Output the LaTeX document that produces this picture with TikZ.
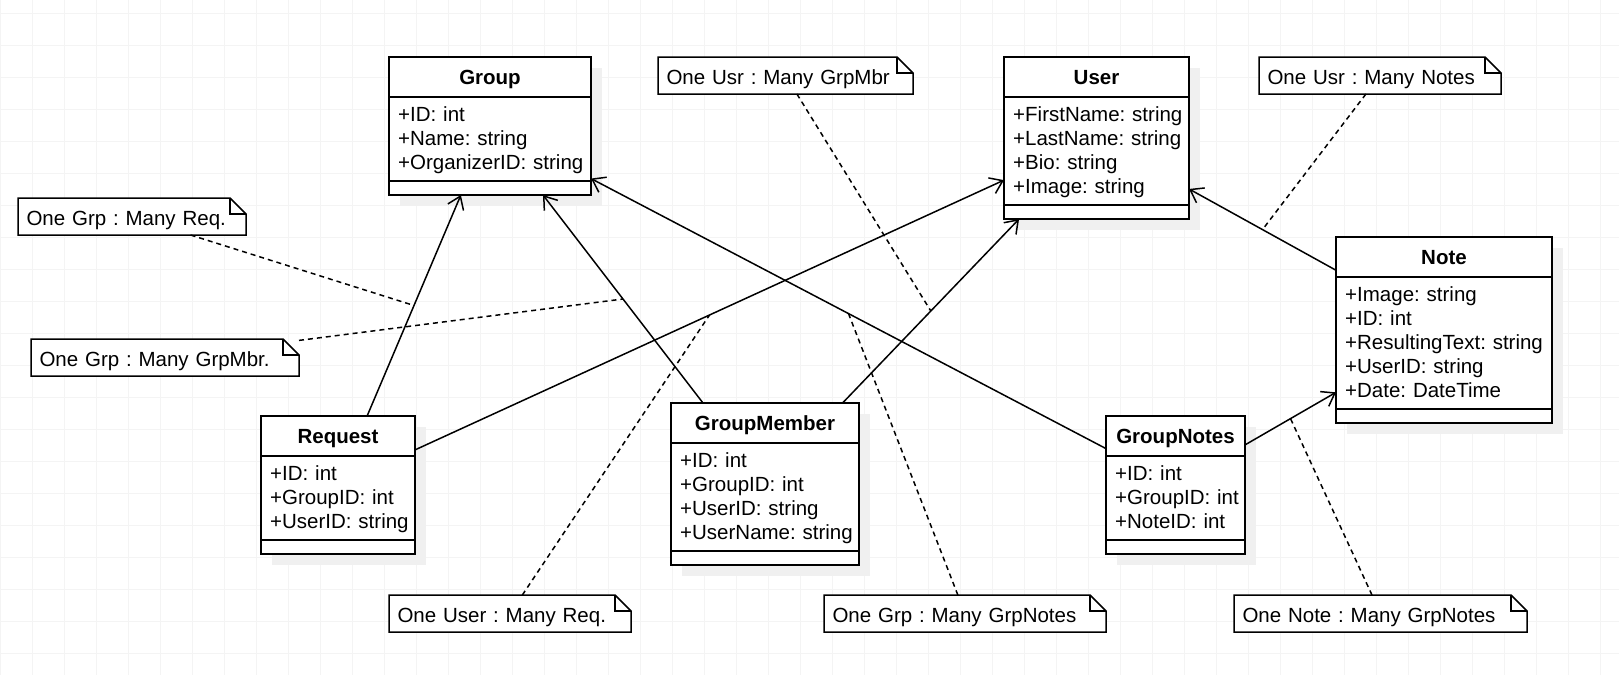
\documentclass[tikz,border=0pt]{standalone}
\usepackage{fontspec}
\setmainfont{Liberation Sans}
\usetikzlibrary{arrows.meta,shadows}
\definecolor{gridgray}{rgb}{0.955,0.955,0.955}
\definecolor{shadowgray}{rgb}{0.94,0.94,0.94}
\frenchspacing

\tikzset{
	classbox/.style={draw,line width=1.5pt,fill=white,anchor=north west,inner sep=0pt,outer sep=0pt,
		drop shadow={shadow xshift=11pt,shadow yshift=-11pt,fill=shadowgray,opacity=1}},
	classname/.style={font=\bfseries\fontsize{20.5}{24}\selectfont,text height=18pt,text depth=4pt,inner sep=0pt},
	attrs/.style={anchor=north west,inner xsep=9pt,inner ysep=0pt,align=left,
		font=\fontsize{20.5}{24}\selectfont,
		execute at begin node={\rule{0pt}{24pt}},execute at end node={\rule[-12pt]{0pt}{12pt}}},
	sep/.style={line width=1.5pt},
	assoc/.style={line width=1.5pt,-{Straight Barb[length=12pt,width=17pt]}},
	notelink/.style={line width=1.5pt,dash pattern=on 5pt off 4pt},
	notebox/.style={anchor=north west,inner xsep=8.5pt,inner ysep=0pt,outer sep=0pt,
		minimum height=37pt,text height=20pt,text depth=2pt,align=left,
		font=\fontsize{20.5}{24}\selectfont,
		append after command={\pgfextra{
			\draw[line width=1.5pt,fill=white] (\tikzlastnode.south west) -- (\tikzlastnode.north west)
				-- ([xshift=-16pt]\tikzlastnode.north east) -- ([yshift=-16pt]\tikzlastnode.north east)
				-- (\tikzlastnode.south east) -- cycle;
			\draw[line width=1.5pt] ([xshift=-16pt]\tikzlastnode.north east) |- ([yshift=-16pt]\tikzlastnode.north east);}}}
}

\begin{document}
\begin{tikzpicture}[x=1pt,y=-1pt]
	\path[use as bounding box,fill=white] (0,0) rectangle (1619,675);
	\draw[gridgray,line width=1pt,step=32pt,yshift=-13pt] (0pt,13pt) grid (1619pt,-662pt);

	% Group
	\node[classbox,minimum width=202pt,minimum height=138pt] (group) at (389,57) {};
	\node[classname] (groupT) at ([yshift=-20pt]group.north) {Group};
	\draw[sep] ([yshift=-40pt]group.north west) -- ([yshift=-40pt]group.north east);
	\node[attrs,text width=192pt] (groupA) at ([yshift=-40pt]group.north west) {+ID: int\\+Name: string\\+OrganizerID: string};
	\draw[sep] ([yshift=14pt]group.south west) -- ([yshift=14pt]group.south east);

	% User
	\node[classbox,minimum width=185pt,minimum height=162pt] (user) at (1004,57) {};
	\node[classname] (userT) at ([yshift=-20pt]user.north) {User};
	\draw[sep] ([yshift=-40pt]user.north west) -- ([yshift=-40pt]user.north east);
	\node[attrs,text width=175pt] (userA) at ([yshift=-40pt]user.north west) {+FirstName: string\\+LastName: string\\+Bio: string\\+Image: string};
	\draw[sep] ([yshift=14pt]user.south west) -- ([yshift=14pt]user.south east);

	% Note
	\node[classbox,minimum width=216pt,minimum height=186pt] (note) at (1336,237) {};
	\node[classname] (noteT) at ([yshift=-20pt]note.north) {Note};
	\draw[sep] ([yshift=-40pt]note.north west) -- ([yshift=-40pt]note.north east);
	\node[attrs,text width=206pt] (noteA) at ([yshift=-40pt]note.north west) {+Image: string\\+ID: int\\+ResultingText: string\\+UserID: string\\+Date: DateTime};
	\draw[sep] ([yshift=14pt]note.south west) -- ([yshift=14pt]note.south east);

	% Request
	\node[classbox,minimum width=154pt,minimum height=138pt] (request) at (261,416) {};
	\node[classname] (requestT) at ([yshift=-20pt]request.north) {Request};
	\draw[sep] ([yshift=-40pt]request.north west) -- ([yshift=-40pt]request.north east);
	\node[attrs,text width=144pt] (requestA) at ([yshift=-40pt]request.north west) {+ID: int\\+GroupID: int\\+UserID: string};
	\draw[sep] ([yshift=14pt]request.south west) -- ([yshift=14pt]request.south east);

	% GroupMember
	\node[classbox,minimum width=188pt,minimum height=162pt] (gmember) at (671,403) {};
	\node[classname] (gmemberT) at ([yshift=-20pt]gmember.north) {GroupMember};
	\draw[sep] ([yshift=-40pt]gmember.north west) -- ([yshift=-40pt]gmember.north east);
	\node[attrs,text width=178pt] (gmemberA) at ([yshift=-40pt]gmember.north west) {+ID: int\\+GroupID: int\\+UserID: string\\+UserName: string};
	\draw[sep] ([yshift=14pt]gmember.south west) -- ([yshift=14pt]gmember.south east);

	% GroupNotes
	\node[classbox,minimum width=139pt,minimum height=138pt] (gnotes) at (1106,416) {};
	\node[classname] (gnotesT) at ([yshift=-20pt]gnotes.north) {GroupNotes};
	\draw[sep] ([yshift=-40pt]gnotes.north west) -- ([yshift=-40pt]gnotes.north east);
	\node[attrs,text width=129pt] (gnotesA) at ([yshift=-40pt]gnotes.north west) {+ID: int\\+GroupID: int\\+NoteID: int};
	\draw[sep] ([yshift=14pt]gnotes.south west) -- ([yshift=14pt]gnotes.south east);

	% associations
	\draw[assoc] (request) -- coordinate[midway] (rqgr) (group);
	\draw[assoc] (request) -- coordinate[midway] (rqus) (user);
	\draw[assoc] (gmember) -- coordinate[midway] (gmgr) (group);
	\draw[assoc] (gmember) -- coordinate[midway] (gmus) (user);
	\draw[assoc] (gnotes) -- coordinate[midway] (gngr) (group);
	\draw[assoc] (note) -- coordinate[midway] (ntus) (user);
	\draw[assoc] (gnotes) -- coordinate[midway] (gnnt) (note);

	% notes
	\node[notebox,text width=211pt] (grpreq) at (18,198) {One Grp : Many Req.};
	\node[notebox,text width=251pt] (grpmbr) at (31,339) {One Grp : Many GrpMbr.};
	\node[notebox,text width=238pt] (usrmbr) at (658,57) {One Usr : Many GrpMbr};
	\node[notebox,text width=225pt] (usrnotes) at (1259,57) {One Usr : Many Notes};
	\node[notebox,text width=225pt] (usrreq) at (389,595) {One User : Many Req.};
	\node[notebox,text width=265pt] (grpnotes) at (824,595) {One Grp : Many GrpNotes};
	\node[notebox,text width=276pt] (notegrp) at (1234,595) {One Note : Many GrpNotes};

	\draw[notelink] (grpreq) -- (rqgr);
	\draw[notelink] (grpmbr) -- (gmgr);
	\draw[notelink] (usrmbr) -- (gmus);
	\draw[notelink] (usrnotes) -- (ntus);
	\draw[notelink] (usrreq) -- (rqus);
	\draw[notelink] (grpnotes) -- (gngr);
	\draw[notelink] (notegrp) -- (gnnt);
\end{tikzpicture}
\end{document}
